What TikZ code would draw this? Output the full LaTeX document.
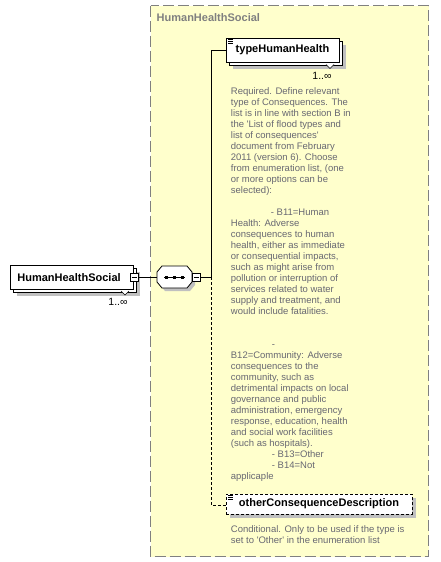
\documentclass[tikz,border=0pt]{standalone}
\usepackage{fontspec}
\setmainfont{Liberation Sans}
\definecolor{bgyellow}{RGB}{255,255,204}
\definecolor{descgray}{RGB}{104,104,114}
\definecolor{framegray}{RGB}{128,128,128}
\definecolor{shadowgray}{RGB}{192,192,192}
\begin{document}
\begin{tikzpicture}[x=1pt,y=-1pt,
  elembox/.style={draw=black, fill=white, line width=0.8pt, inner sep=0pt},
  elemlabel/.style={font=\bfseries\fontsize{11}{13}\selectfont},
  shadowfill/.style={fill=shadowgray, draw=none},
  minusbox/.style={draw=black, fill=white, line width=0.7pt, minimum size=8pt, inner sep=0pt},
  desc/.style={text=descgray, font=\fontsize{9.5}{11}\selectfont, align=left, inner sep=0pt, anchor=north west},
  conn/.style={line width=0.8pt},
  optconn/.style={line width=0.8pt, dash pattern=on 3pt off 2pt},
  mult/.style={font=\fontsize{10.5}{12}\selectfont, inner sep=0pt},
  chevron/.style={fill=white, draw=black, line width=0.6pt},
  icon/.style={line width=0.6pt}
]
\useasboundingbox (0,0) rectangle (440,562);
\fill[white] (0,0) rectangle (440,562);
% group frame
\draw[framegray, fill=bgyellow, line width=1.2pt, dash pattern=on 11pt off 4pt] (150.5,5.5) rectangle (428.5,556.5);
\node[anchor=west, inner sep=0pt, text=framegray, elemlabel] (title) at (156.5,18) {HumanHealthSocial};

% root element
\fill[shadowfill] (17,272) rectangle (140,296);
\draw[elembox] (13,268) rectangle (136,292);
\node[elembox, anchor=north west, minimum width=123pt, minimum height=24pt, text width=109pt, align=left, inner xsep=7pt, elemlabel] (root) at (10,265) {HumanHealthSocial};
\filldraw[chevron] (121,291) -- (125,295) -- (129,291);
\node[minusbox] (rootm) at (134,277) {};
\draw ([xshift=-2.5pt]rootm.center) -- ([xshift=2.5pt]rootm.center);
\node[mult] (rootmult) at (118,302) {1..∞};

% sequence compositor
\fill[shadowfill] (160,275) -- (165,269) -- (190,269) -- (195,275) -- (195,285) -- (190,291) -- (165,291) -- (160,285) -- cycle;
\node[inner sep=0pt, minimum width=35pt, minimum height=22pt] (seq) at (174.5,277) {};
\draw[fill=white, line width=0.8pt] (157,272) -- (162,266) -- (187,266) -- (192,272) -- (192,282) -- (187,288) -- (162,288) -- (157,282) -- cycle;
\draw[line width=0.8pt] (164,277) -- (185,277);
\fill (165,275.5) rectangle (168,278.5);
\fill (173,275.5) rectangle (176,278.5);
\fill (181,275.5) rectangle (184,278.5);
\node[minusbox] (seqm) at (196.5,277) {};
\draw ([xshift=-2.5pt]seqm.center) -- ([xshift=2.5pt]seqm.center);

% typeHumanHealth
\fill[shadowfill] (233,45) rectangle (346,69);
\draw[elembox] (229,41) rectangle (342,65);
\node[elembox, minimum width=113pt, minimum height=24pt, elemlabel] (type) at (282.5,50) {typeHumanHealth};
\draw[icon] (228,39.5) -- (233,39.5) (228,41.5) -- (233,41.5) (228,43.5) -- (233,43.5);
\filldraw[chevron] (326,64.5) -- (330,68.5) -- (334,64.5);
\node[mult] (typemult) at (322,76) {1..∞};

% otherConsequenceDescription
\fill[shadowfill] (230,498) rectangle (416,518);
\node[elembox, dash pattern=on 3pt off 2pt, minimum width=186pt, minimum height=20pt, elemlabel] (other) at (319,504) {otherConsequenceDescription};
\draw[icon] (228,495.5) -- (233,495.5) (228,497.5) -- (233,497.5) (228,499.5) -- (233,499.5);

% connectors
\coordinate (trunk) at (211,277);
\coordinate (trunktop) at (211,50);
\coordinate (trunkbot) at (211,505);
\draw[conn] (rootm.east) -- (seq.west);
\draw[conn] (seqm.east) -- (trunk);
\draw[conn] (trunk) -- (trunktop) -- (type.west);
\draw[optconn] (trunk) -- (trunkbot) -- (other.west |- trunkbot);

% descriptions
\node[desc] (desc1) at (230.7,87.3) {Required. Define relevant\\
type of Consequences. The\\
list is in line with section B in\\
the \textquotesingle List of flood types and\\
list of consequences\textquotesingle\\
document from February\\
2011 (version 6). Choose\\
from enumeration list, (one\\
or more options can be\\
selected):\\[11pt]
\hspace*{40pt}- B11=Human\\
Health: Adverse\\
consequences to human\\
health, either as immediate\\
or consequential impacts,\\
such as might arise from\\
pollution or interruption of\\
services related to water\\
supply and treatment, and\\
would include fatalities.\\[22pt]
\hspace*{41pt}-\\
B12=Community: Adverse\\
consequences to the\\
community, such as\\
detrimental impacts on local\\
governance and public\\
administration, emergency\\
response, education, health\\
and social work facilities\\
(such as hospitals).\\
\hspace*{41pt}- B13=Other\\
\hspace*{41pt}- B14=Not\\
applicaple};
\node[desc] (desc2) at (230.7,525.3) {Conditional. Only to be used if the type is\\
set to \textquotesingle Other\textquotesingle\ in the enumeration list};
\end{tikzpicture}
\end{document}
